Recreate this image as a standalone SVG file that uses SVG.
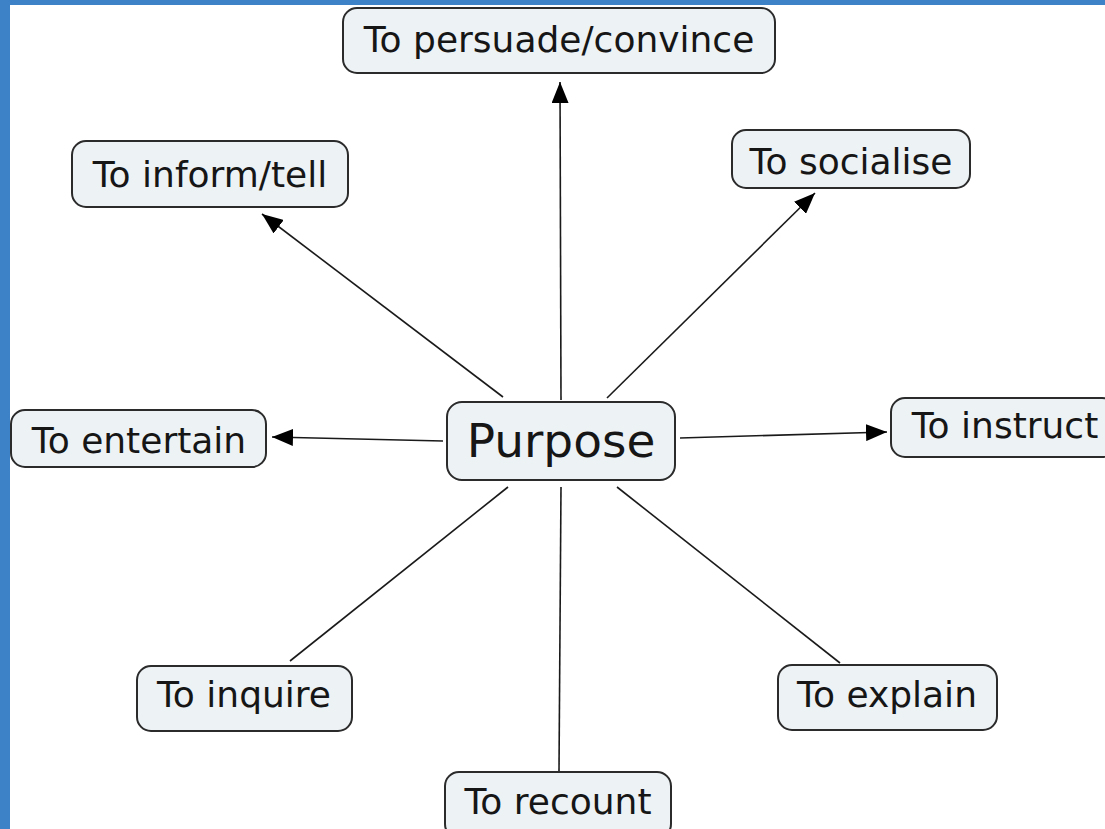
<svg xmlns="http://www.w3.org/2000/svg" width="1105" height="829" viewBox="0 0 1105 829">
<style>
.box{fill:#edf2f5;stroke:#2b2b2b;stroke-width:2}
.t{font-family:"DejaVu Sans",Verdana,sans-serif;font-size:36px;fill:#161616;text-anchor:middle}
.big{font-size:47px}
.c{stroke:#1a1a1a;stroke-width:1.6;fill:none}
</style>
<defs>
<marker id="a" viewBox="0 0 21 17" refX="21" refY="8.5" markerWidth="21" markerHeight="17" markerUnits="userSpaceOnUse" orient="auto">
<path d="M0,0 L21,8.5 L0,17 z" fill="#000"/>
</marker>
</defs>
<rect x="0" y="0" width="1105" height="829" fill="#ffffff"/>
<rect x="0" y="0" width="10" height="829" fill="#3d82c6"/>
<rect x="0" y="0" width="1105" height="5" fill="#3d82c6"/>
<g id="connectors">
<line class="c" x1="561" y1="400" x2="560" y2="82" marker-end="url(#a)"/>
<line class="c" x1="503" y1="397" x2="262" y2="214" marker-end="url(#a)"/>
<line class="c" x1="607" y1="398" x2="815" y2="193" marker-end="url(#a)"/>
<line class="c" x1="443" y1="441" x2="272" y2="437" marker-end="url(#a)"/>
<line class="c" x1="680" y1="438" x2="887" y2="432" marker-end="url(#a)"/>
<line class="c" x1="508" y1="487" x2="290" y2="661"/>
<line class="c" x1="561" y1="487" x2="559" y2="771"/>
<line class="c" x1="617" y1="487" x2="840" y2="663"/>
</g>
<g id="purpose">
<rect class="box" x="447" y="402" width="228" height="78" rx="15"/>
<text class="t big" x="561" y="457">Purpose</text>
</g>
<g id="persuade">
<rect class="box" x="343" y="8" width="432" height="65" rx="14"/>
<text class="t" x="559" y="52">To persuade/convince</text>
</g>
<g id="inform">
<rect class="box" x="72" y="141" width="276" height="66" rx="14"/>
<text class="t" x="210" y="187">To inform/tell</text>
</g>
<g id="socialise">
<rect class="box" x="732" y="130" width="238" height="58" rx="14"/>
<text class="t" x="851" y="174">To socialise</text>
</g>
<g id="entertain">
<rect class="box" x="11" y="410" width="255" height="57" rx="14"/>
<text class="t" x="139" y="453">To entertain</text>
</g>
<g id="instruct">
<rect class="box" x="891" y="398" width="225" height="59" rx="14"/>
<text class="t" x="1005" y="438">To instruct</text>
</g>
<g id="inquire">
<rect class="box" x="137" y="666" width="215" height="65" rx="14"/>
<text class="t" x="244" y="707">To inquire</text>
</g>
<g id="explain">
<rect class="box" x="778" y="665" width="219" height="65" rx="14"/>
<text class="t" x="887" y="707">To explain</text>
</g>
<g id="recount">
<rect class="box" x="445" y="772" width="226" height="66" rx="14"/>
<text class="t" x="558" y="814">To recount</text>
</g>
</svg>
